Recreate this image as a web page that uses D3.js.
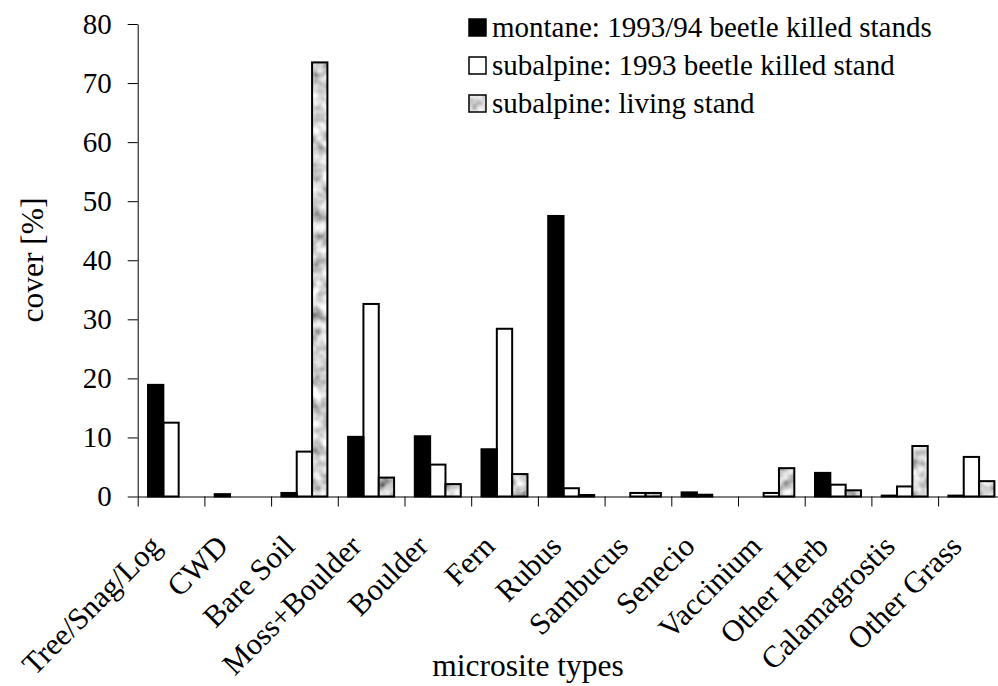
<!DOCTYPE html>
<html>
<head>
<meta charset="utf-8">
<script src="https://cdn.jsdelivr.net/npm/d3@7"></script>
</head>
<body style="margin:0;background:#fff">
<div id="chart"></div>
<script>
// microsite cover data
var categories = ["Tree/Snag/Log", "CWD", "Bare Soil", "Moss+Boulder", "Boulder", "Fern", "Rubus",
                  "Sambucus", "Senecio", "Vaccinium", "Other Herb", "Calamagrostis", "Other Grass"];
var seriesNames = ["montane: 1993/94 beetle killed stands",
                   "subalpine: 1993 beetle killed stand",
                   "subalpine: living stand"];
var montane   = [18.9, 0.4, 0.6, 10.1, 10.2, 8.0, 47.5, 0,   0.7, 0,   4.0, 0.15, 0.15];
var subDead   = [12.5, 0,   7.6, 32.6, 5.4, 28.4, 1.4, 0.6, 0.3, 0.6, 2.0, 1.7, 6.7];
var subLiving = [0,    0,  73.5,  3.2, 2.1,  3.8, 0.25, 0.6, 0,  4.8, 1.05, 8.55, 2.6];
var yTicks = [0, 10, 20, 30, 40, 50, 60, 70, 80];

var FONT = "'Liberation Serif', 'Times New Roman', serif";
var W = 998, H = 686;
var svg = d3.select("#chart").append("svg").attr("width", W).attr("height", H);

// mottled grey fill for the living stand
var defs = svg.append("defs");
var filt = defs.append("filter").attr("id", "mottle")
    .attr("x", 0).attr("y", 0).attr("width", 1).attr("height", 1);
filt.append("feTurbulence").attr("type", "fractalNoise").attr("baseFrequency", 0.09)
    .attr("numOctaves", 2).attr("seed", 7).attr("result", "noise");
filt.append("feColorMatrix").attr("in", "noise").attr("type", "matrix")
    .attr("values", "1.3 0 0 0 0.0  1.3 0 0 0 0.0  1.3 0 0 0 0.0  0 0 0 0 1").attr("result", "grey");
filt.append("feComposite").attr("in", "grey").attr("in2", "SourceAlpha").attr("operator", "in");

var x0 = 137.7, step = 66.7;
var x = d3.scaleBand().domain(categories).range([x0, x0 + step * categories.length]).padding(0);
var xs = d3.scaleBand().domain(d3.range(3)).range([10.3, 56.3]).padding(0);
var y = d3.scaleLinear().domain([0, 80]).range([496.5, 24]);

var allSeries = [montane, subDead, subLiving];

// bars
allSeries.forEach(function(vals, s) {
    var g = svg.append("g").attr("class", "series-" + s);
    var rows = categories.map(function(c, i) { return {cat: c, v: vals[i]}; })
        .filter(function(d) { return d.v > 0; });
    if (s == 2) {
        g.selectAll("rect.fill").data(rows).enter().append("rect")
            .attr("class", "fill")
            .attr("x", function(d) { return x(d.cat) + xs(s); })
            .attr("y", function(d) { return y(d.v); })
            .attr("width", xs.bandwidth())
            .attr("height", function(d) { return y(0) - y(d.v); })
            .attr("fill", "#aaa")
            .attr("filter", "url(#mottle)");
    }
    g.selectAll("rect.out").data(rows).enter().append("rect")
        .attr("class", "out")
        .attr("x", function(d) { return x(d.cat) + xs(s); })
        .attr("y", function(d) { return y(d.v); })
        .attr("width", xs.bandwidth())
        .attr("height", function(d) { return y(0) - y(d.v); })
        .attr("fill", s == 0 ? "#000" : "none")
        .attr("stroke", "#000").attr("stroke-width", 2);
});

// y axis
var yAxis = svg.append("g").attr("transform", "translate(" + x0 + ",0)")
    .call(d3.axisLeft(y).tickValues(yTicks).tickSize(10).tickSizeOuter(0).tickPadding(16));
yAxis.selectAll("text").style("font-family", FONT).style("font-size", "29px").attr("fill", "#000");
yAxis.selectAll("line,path").attr("stroke", "#000");

// x axis: ticks on category boundaries
var xb = d3.scaleLinear().domain([0, categories.length]).range([x0, x0 + step * categories.length]);
var xAxis = svg.append("g").attr("transform", "translate(0," + y(0) + ")")
    .call(d3.axisBottom(xb).tickValues(d3.range(0, categories.length + 1)).tickFormat("")
          .tickSize(10).tickSizeOuter(0));
xAxis.selectAll("line,path").attr("stroke", "#000");

svg.append("g").selectAll("text.cat").data(categories).enter().append("text")
    .attr("class", "cat")
    .attr("transform", function(d) {
        return "translate(" + (x(d) + x.bandwidth() / 2 - 8) + ",548) rotate(-45)";
    })
    .attr("text-anchor", "end")
    .style("font-family", FONT).style("font-size", "30.5px")
    .text(function(d) { return d; });

// axis titles
svg.append("text").attr("x", 528).attr("y", 676).attr("text-anchor", "middle")
    .style("font-family", FONT).style("font-size", "31.5px").text("microsite types");
svg.append("text").attr("transform", "translate(43,260) rotate(-90)").attr("text-anchor", "middle")
    .style("font-family", FONT).style("font-size", "31.5px").text("cover [%]");

// legend
var leg = svg.append("g").attr("transform", "translate(469,19)");
seriesNames.forEach(function(name, i) {
    var row = leg.append("g").attr("transform", "translate(0," + (i * 38) + ")");
    if (i == 2) {
        row.append("rect").attr("width", 17).attr("height", 17)
            .attr("fill", "#aaa").attr("filter", "url(#mottle)");
    }
    row.append("rect").attr("width", 17).attr("height", 17)
        .attr("fill", i == 0 ? "#000" : "none")
        .attr("stroke", "#000").attr("stroke-width", 1.5);
    row.append("text").attr("x", 23).attr("y", 18)
        .style("font-family", FONT).style("font-size", "29px").text(name);
});
</script>
</body>
</html>
